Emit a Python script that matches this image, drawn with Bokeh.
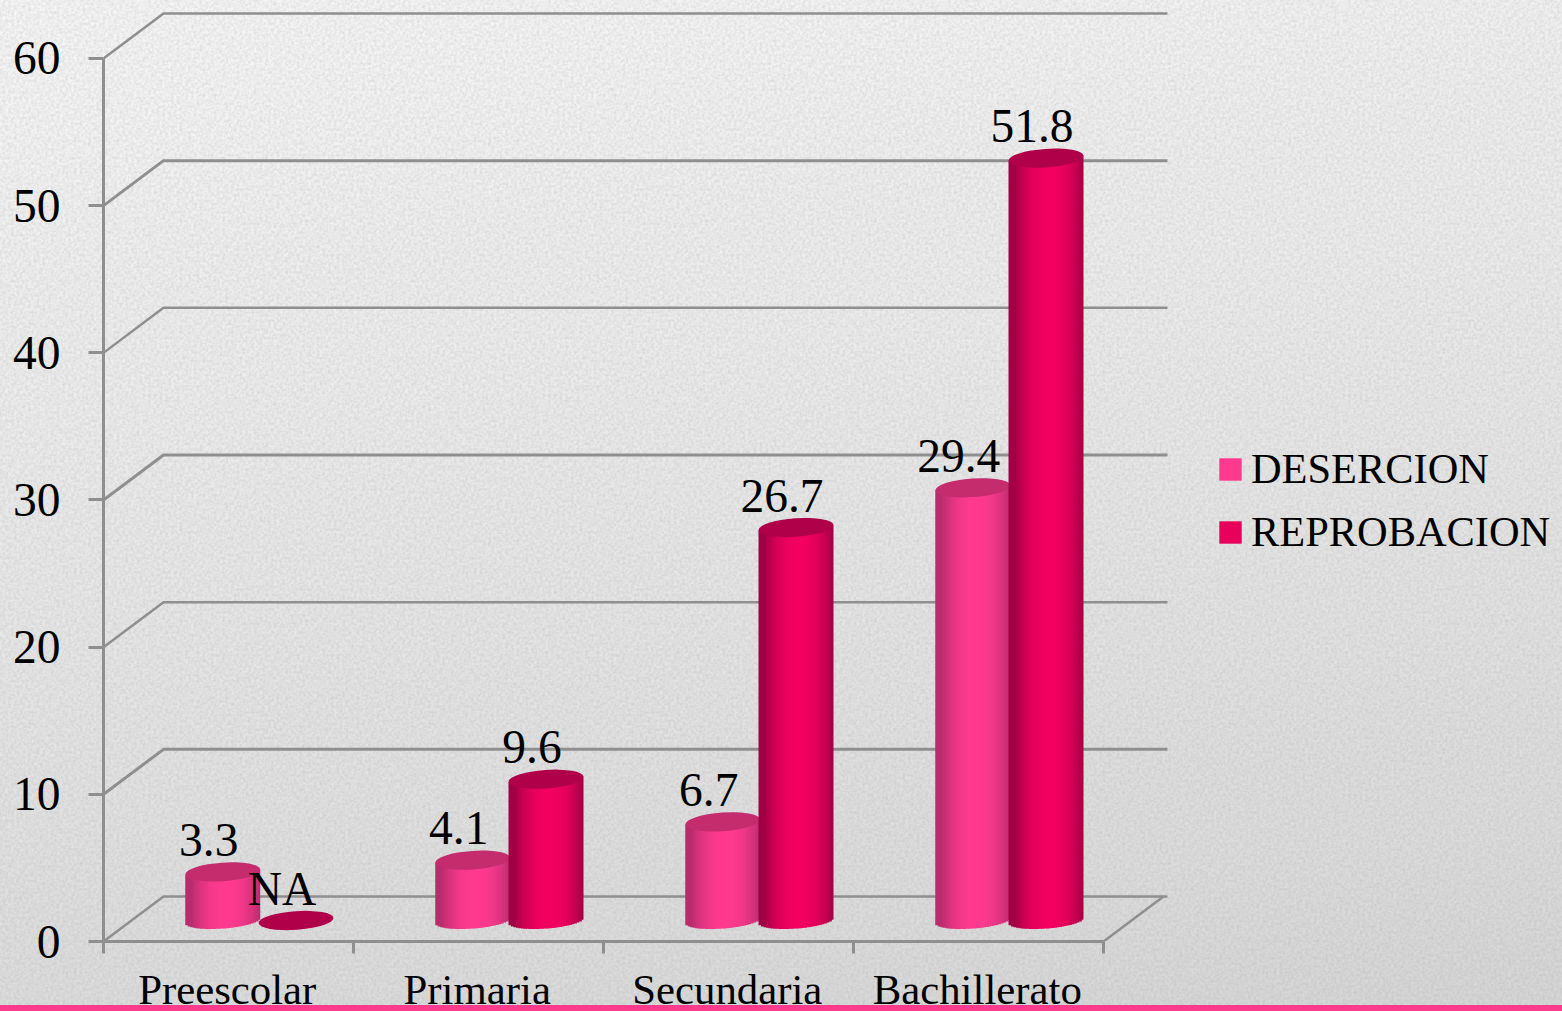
from bokeh.plotting import figure
from bokeh.embed import file_html
from bokeh.resources import INLINE
from bokeh.core.properties import value
from bokeh.models import (Range1d, LinearAxis, FixedTicker, Legend, LegendItem,
                          ColumnDataSource)
import math

categories = ["Preescolar", "Primaria", "Secundaria", "Bachillerato"]
desercion = [3.3, 4.1, 6.7, 29.4]
reprobacion = [None, 9.6, 26.7, 51.8]      # Preescolar has no value: "NA"
series_names = ["DESERCION", "REPROBACION"]
y_ticks = [0, 10, 20, 30, 40, 50, 60]

# --- styles -----------------------------------------------------------------
SERIF = "Liberation Serif"
GRID = "#8f8f8f"
PX_X, PX_Y = 250.0, 14.717           # pixels per unit of each scale
BG_NOISE = ("url(\"data:image/svg+xml,%3Csvg xmlns='http://www.w3.org/2000/svg' width='400' height='400'%3E"
            "%3Cfilter id='n'%3E%3CfeTurbulence type='fractalNoise' baseFrequency='0.35' numOctaves='3' stitchTiles='stitch'/%3E"
            "%3CfeColorMatrix values='0 0 0 0 0.35 0 0 0 0 0.35 0 0 0 0 0.35 0 0 0 0.45 -0.13'/%3E%3C/filter%3E"
            "%3Crect width='400' height='400' filter='url(%23n)'/%3E%3C/svg%3E\")")

p = figure(width=1562, height=1015, output_backend="svg", toolbar_location=None,
           x_range=Range1d(0, 1459 / PX_X), y_range=Range1d(0, 941 / PX_Y),
           x_axis_location=None, y_axis_location=None,
           min_border_left=103, min_border_right=0, min_border_top=0, min_border_bottom=70,
           background_fill_color=None, border_fill_color=None, outline_line_color=None)
p.grid.visible = False
p.styles = {
    "position": "fixed", "left": "0px", "top": "0px",
    "background": ("linear-gradient(#fb3c8c,#fb3c8c) left 0 top 1005px / 100% 10px no-repeat, "
                   + BG_NOISE + ", linear-gradient(172deg,#f6f6f6 0%,#e9e9e9 45%,#d6d6d6 100%)"),
}

# --- axes -------------------------------------------------------------------
yax = LinearAxis(ticker=FixedTicker(ticks=y_ticks), bounds=(0, y_ticks[-1]))
yax.axis_line_color = GRID
yax.axis_line_width = 3
yax.major_tick_line_color = GRID
yax.major_tick_line_width = 3
yax.major_tick_out = 15
yax.major_tick_in = 0
yax.minor_tick_line_color = None
yax.major_label_text_font = SERIF
yax.major_label_text_font_size = "47.5px"
yax.major_label_text_color = "#000000"
yax.major_label_standoff = 28
p.add_layout(yax, "left")

n = len(categories)
LABEL_AT = 0.495
xax = LinearAxis(
    ticker=FixedTicker(ticks=[i + LABEL_AT for i in range(n)], minor_ticks=list(range(n + 1))),
    bounds=(0, n),
    major_label_overrides={i + LABEL_AT: c for i, c in enumerate(categories)},
)
xax.axis_line_color = GRID
xax.axis_line_width = 3
xax.major_tick_line_color = None
xax.major_tick_out = 0
xax.major_tick_in = 0
xax.minor_tick_line_color = GRID
xax.minor_tick_line_width = 3
xax.minor_tick_out = 12
xax.minor_tick_in = 0
xax.major_label_text_font = SERIF
xax.major_label_text_font_size = "42.8px"
xax.major_label_text_color = "#000000"
xax.major_label_standoff = 12
p.add_layout(xax, "below")

# --- 3D walls and floor -----------------------------------------------------
DX, DY = 60 / PX_X, 45 / PX_Y
for v in y_ticks:
    p.line([0, DX, n + 64 / PX_X], [v, v + DY, v + DY], line_color=GRID,
           line_width=2.5 if v % 20 == 0 else 3)
p.line([n, n + DX], [0, DY], line_color=GRID, line_width=2.5)

# --- cylinders --------------------------------------------------------------
def mix(c1, c2, t):
    a = [int(c1[i:i + 2], 16) for i in (1, 3, 5)]
    b = [int(c2[i:i + 2], 16) for i in (1, 3, 5)]
    return "#%02x%02x%02x" % tuple(round(x + (y - x) * t) for x, y in zip(a, b))

BAR_W = 75 / PX_X
RX, RY, RY_FOOT = BAR_W / 2, 9.3 / PX_Y, 8.0 / PX_Y
TILT = 2.8 / PX_Y
BASE = 21 / PX_Y                      # the cylinders stand mid-way in the floor's depth
ANGLE = 0.07
STRIPS = 30

def cylinders(vals, offset, edge, face, top):
    src = dict(left=[], right=[], bottom=[], top=[], color=[])
    ex, ey = [], []
    for i, v in enumerate(vals):
        h = 0 if v is None else v
        cx = i + offset
        ex.append(cx)
        ey.append(BASE + h)
        if v is None:
            continue
        for k in range(STRIPS):
            u0, u1 = -1 + 2 * k / STRIPS, -1 + 2 * (k + 1) / STRIPS
            um = (u0 + u1) / 2
            src["left"].append(cx + u0 * RX)
            src["right"].append(cx + u1 * RX + (0.8 / PX_X if k < STRIPS - 1 else 0))
            src["bottom"].append(BASE + um * TILT - RY_FOOT * math.sqrt(max(0, 1 - um * um)))
            src["top"].append(BASE + h + um * TILT)
            shade = min(1, abs(um - 0.08) / 0.92)
            src["color"].append(mix(face, edge, shade ** 2.2))
    if src["left"]:
        p.quad(left="left", right="right", bottom="bottom", top="top", source=ColumnDataSource(src),
               fill_color="color", line_color=None)
    p.ellipse(ex, ey, width=BAR_W, height=2 * RY, angle=ANGLE, fill_color=top, line_color=None)

cylinders(desercion, 0.477, "#b82c6c", "#ff3a8e", "#c42c6e")
cylinders(reprobacion, 0.770, "#a00044", "#f30060", "#b0004a")

# --- data labels ------------------------------------------------------------
lx, ly, lt = [], [], []
for offset, vals in ((0.477, desercion), (0.770, reprobacion)):
    for i, v in enumerate(vals):
        lx.append(i + offset)
        ly.append(BASE + (0 if v is None else v))
        lt.append("NA" if v is None else str(v))
p.text(lx, ly, text=lt, x_offset=-14, y_offset=-32, text_align="center", text_baseline="alphabetic",
       text_font=value(SERIF), text_font_size="47.5px", text_color="#000000")

# --- legend -----------------------------------------------------------------
nan = float("nan")
r_d = p.quad(left=[nan], right=[nan], bottom=[nan], top=[nan], fill_color="#ff3a8e", line_color=None)
r_r = p.quad(left=[nan], right=[nan], bottom=[nan], top=[nan], fill_color="#e8005a", line_color=None)
legend = Legend(items=[LegendItem(label=series_names[0], renderers=[r_d]),
                       LegendItem(label=series_names[1], renderers=[r_r])],
                location=(1113, 385), orientation="vertical",
                background_fill_alpha=0, border_line_color=None,
                padding=0, margin=0, spacing=14, glyph_width=28, glyph_height=28, label_standoff=7,
                label_text_font=SERIF, label_text_font_size="42.4px", label_text_color="#000000")
p.add_layout(legend, "center")

open("out.html", "w").write(file_html(p, INLINE))
